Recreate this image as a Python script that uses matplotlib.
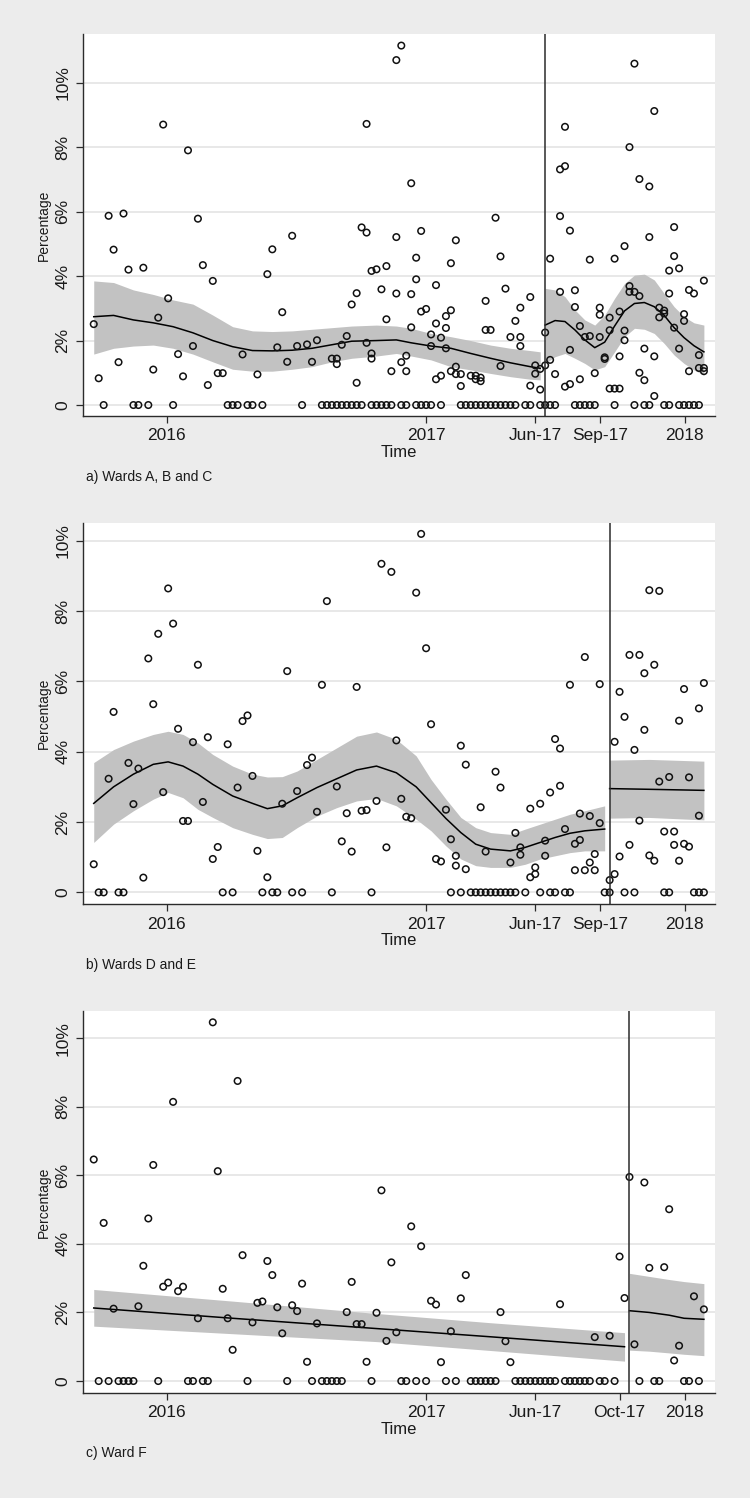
import numpy as np
import pandas as pd
import matplotlib
matplotlib.use('Agg')
import matplotlib.pyplot as plt

plt.rcParams['font.family'] = ['Liberation Sans', 'DejaVu Sans']

# weekly audits, week 0 = 20 Sep 2015; each entry lists the values seen that week (%)
start = pd.Timestamp('2015-09-20')

a_pct = [
    [2.51], [0.83], [0], [5.87], [4.82], [1.33], [5.94], [4.20], [0], [0],              # 0-9
    [4.26], [0], [1.10], [2.71], [8.70], [3.31], [0], [1.58], [0.89], [7.90],           # 10-19
    [1.83], [5.78], [4.34], [0.62], [3.85], [0.99], [0.99], [0], [0], [0],              # 20-29
    [1.57], [0], [0], [0.95], [0], [4.06], [4.83], [1.79], [2.88], [1.34],              # 30-39
    [5.25], [1.83], [0], [1.88], [1.34], [2.01], [0], [0], [1.44, 0], [1.44, 1.27, 0],  # 40-49
    [1.87, 0], [2.14, 0], [3.12, 0], [3.47, 0.69, 0], [5.51, 0], [8.72, 5.35, 1.93],
    [4.16, 1.60, 1.44, 0], [4.21, 0], [3.59, 0], [4.31, 2.66, 0],                       # 50-59
    [1.05, 0], [10.70, 5.21, 3.46], [11.15, 1.33, 0], [1.53, 1.05, 0], [6.88, 3.44, 2.41],
    [4.57, 3.90, 0], [5.40, 2.90, 0], [2.98, 0], [2.19, 1.83, 0], [3.72, 2.53, 0.80],  # 60-69
    [2.09, 0.91, 0], [2.76, 2.39, 1.76], [4.40, 2.94, 1.05], [5.11, 1.19, 0.96], [0.96, 0.59, 0],
    [0], [0.91, 0], [0.91, 0.80, 0], [0.85, 0.74, 0], [3.23, 2.33, 0],                 # 70-79
    [2.33, 0], [5.81, 0], [4.61, 1.21, 0], [3.61, 0], [2.11, 0],
    [2.61, 0], [3.02, 2.11, 1.83], [0], [3.35, 0.60, 0], [1.23, 0.97],                 # 80-89
    [1.12, 0.48, 0], [2.25, 1.23, 0], [4.54, 1.40, 0], [0.96, 0], [7.31, 5.86, 3.51],
    [8.63, 7.41, 0.57], [5.41, 1.71, 0.65], [3.56, 3.04, 0], [2.45, 0.80, 0], [2.11, 0],  # 90-99
    [4.51, 2.14, 0], [0.99, 0], [3.02, 2.80, 2.11], [1.48, 1.43], [2.71, 2.32, 0.51],
    [4.54, 0.51, 0], [2.90, 1.51, 0.51], [4.93, 2.31, 2.01], [8.00, 3.69, 3.51], [10.59, 3.51, 0],  # 100-109
    [7.01, 3.38, 1.00], [1.75, 0.77, 0], [6.78, 5.21, 0], [9.12, 1.51, 0.28], [3.02, 2.72],
    [2.93, 2.84, 0], [4.17, 3.46, 0], [5.52, 4.62, 2.40], [4.24, 1.75, 0], [2.82, 2.61, 0],  # 110-119
    [3.57, 1.05, 0], [3.46, 0], [1.55, 1.15, 0], [3.86, 1.15, 1.05],                  # 120-123
]

b_pct = [
    [0.80], [0], [0], [3.23], [5.13], [0], [0], [3.68], [2.51], [3.52],
    [0.42], [6.65], [5.35], [7.35], [2.85], [8.64], [7.64], [4.65], [2.03], [2.03],
    [4.27], [6.47], [2.57], [4.41], [0.95], [1.29], [0], [4.21], [0], [2.98],
    [4.87], [5.03], [3.31], [1.18], [0], [0.43], [0], [0], [2.52], [6.29],
    [0], [2.88], [0], [3.62], [3.83], [2.29], [5.90], [8.28], [0], [3.01],
    [1.45], [2.25], [1.16], [5.84], [2.32], [2.34], [0], [2.60], [9.34], [1.28],
    [9.11], [4.32], [2.66], [2.15], [2.11], [8.52], [10.19], [6.94], [4.78], [0.95],
    [0.88], [2.35], [1.51, 0], [1.04, 0.76], [4.17, 0], [3.63, 0.66], [0], [0], [2.42, 0], [1.16, 0],
    [0], [3.43, 0], [2.98, 0], [0], [0.85, 0], [1.69, 0], [1.28, 1.07], [0], [2.38, 0.43], [0.71, 0.52],
    [2.52, 0], [1.47, 1.04], [2.84, 0], [4.36, 0], [4.09, 3.03], [1.80, 0], [5.90, 0], [1.38, 0.63],
    [2.24, 1.49], [6.69, 0.63],
    [2.17, 0.85], [1.09, 0.63], [5.92, 1.97], [0], [0.35, 0], [4.28, 0.52], [5.70, 1.02], [4.99, 0],
    [6.75, 1.35], [4.05, 0],
    [6.75, 2.04], [6.23, 4.62], [8.59, 1.05], [6.47, 0.90], [8.57, 3.15], [1.73, 0], [3.28, 0],
    [1.73, 1.35], [4.88, 0.90], [5.78, 1.38],
    [3.27, 1.30], [0], [5.23, 2.18, 0], [5.95, 0],
]

c_pct = [6.46, 0, 4.61, 0, 2.11, 0, 0, 0, 0, 2.18, 3.36, 4.74, 6.30, 0, 2.75, 2.87, 8.14, 2.62,
         2.75, 0, 0, 1.83, 0, 0, 10.46, 6.12, 2.69, 1.83, 0.91, 8.75, 3.67, 0, 1.71, 2.28, 2.32,
         3.50, 3.09, 2.15, 1.39, 0, 2.21, 2.04, 2.84, 0.56, 0, 1.68, 0, 0, 0, 0, 0, 2.01, 2.89,
         1.66, 1.66, 0.56, 0, 1.99, 5.56, 1.17, 3.46, 1.42, 0, 0, 4.51, 0, 3.93, 0, 2.34, 2.23,
         0.55, 0, 1.45, 0, 2.41, 3.09, 0, 0, 0, 0, 0, 0, 2.01, 1.16, 0.55, 0, 0, 0, 0, 0, 0, 0,
         0, 0, 2.24, 0, 0, 0, 0, 0, 0, 1.28, 0, 0, 1.32, 0, 3.63, 2.42, 5.95, 1.07, 0, 5.79,
         3.30, 0, 0, 3.32, 5.01, 0.60, 1.03, 0, 0, 2.47, 0, 2.09]

# smoothed fits with 95% band, before / after the change (week knots)
a_fit1_wk = [0, 4, 8, 12, 16, 20, 24, 28, 32, 36, 40, 44, 48, 52, 57, 61, 64, 68, 72, 76, 80, 84, 88, 90]
a_fit1 = [2.74, 2.78, 2.64, 2.55, 2.43, 2.24, 2.00, 1.81, 1.69, 1.68, 1.70, 1.76, 1.87, 1.98, 2.00,
          2.02, 1.93, 1.83, 1.76, 1.60, 1.45, 1.31, 1.19, 1.14]
a_hi1 = [3.85, 3.80, 3.57, 3.43, 3.26, 3.13, 2.79, 2.43, 2.30, 2.28, 2.30, 2.35, 2.40, 2.45, 2.48,
         2.45, 2.38, 2.22, 2.12, 2.00, 1.86, 1.76, 1.69, 1.65]
a_lo1 = [1.58, 1.76, 1.83, 1.86, 1.76, 1.58, 1.34, 1.11, 1.05, 1.05, 1.11, 1.19, 1.34, 1.45, 1.52,
         1.60, 1.52, 1.40, 1.19, 1.09, 0.98, 0.88, 0.80, 0.78]
a_fit2_wk = [91, 93, 95, 97, 99, 101, 103, 105, 107, 109, 111, 113, 115, 117, 119, 121, 123]
a_fit2 = [2.48, 2.62, 2.59, 2.33, 2.02, 1.78, 1.95, 2.45, 2.92, 3.15, 3.18, 3.05, 2.78, 2.40, 2.09, 1.84, 1.65]
a_hi2 = [3.62, 3.57, 3.36, 2.95, 2.64, 2.48, 2.79, 3.31, 3.77, 4.03, 4.06, 3.88, 3.46, 3.05, 2.74, 2.55, 2.48]
a_lo2 = [1.29, 1.50, 1.60, 1.45, 1.29, 1.09, 1.19, 1.65, 2.12, 2.38, 2.35, 2.22, 1.91, 1.55, 1.29, 1.09, 0.93]

b_fit1_wk = [0, 4, 8, 12, 15, 18, 21, 24, 28, 32, 35, 38, 41, 45, 49, 53, 57, 61, 65, 68, 71, 74,
             77, 80, 84, 87, 90, 93, 96, 99, 103]
b_fit1 = [2.53, 3.00, 3.36, 3.64, 3.71, 3.59, 3.36, 3.07, 2.74, 2.53, 2.38, 2.46, 2.69, 2.98, 3.23,
          3.48, 3.59, 3.40, 3.00, 2.55, 2.10, 1.70, 1.37, 1.23, 1.18, 1.28, 1.42, 1.56, 1.68, 1.75, 1.80]
b_hi1 = [3.69, 4.06, 4.30, 4.49, 4.58, 4.49, 4.25, 3.92, 3.59, 3.36, 3.28, 3.29, 3.45, 3.78, 4.11,
         4.44, 4.56, 4.35, 3.88, 3.21, 2.65, 2.13, 1.84, 1.70, 1.65, 1.80, 1.94, 2.08, 2.22, 2.32, 2.46]
b_lo1 = [1.42, 1.94, 2.32, 2.65, 2.84, 2.69, 2.36, 2.13, 1.84, 1.65, 1.53, 1.56, 1.84, 2.17, 2.41,
         2.60, 2.67, 2.46, 2.08, 1.75, 1.32, 0.95, 0.76, 0.71, 0.71, 0.80, 0.95, 1.04, 1.13, 1.18, 1.18]
b_fit2_wk = [104, 112, 123]
b_fit2 = [2.95, 2.93, 2.90]
b_hi2 = [3.76, 3.78, 3.73]
b_lo2 = [2.11, 2.13, 2.06]

c_fit1_wk = [0, 28, 57, 80, 107]
c_fit1 = [2.13, 1.83, 1.53, 1.29, 1.00]
c_hi1 = [2.67, 2.33, 1.97, 1.70, 1.41]
c_lo1 = [1.60, 1.38, 1.15, 0.89, 0.58]
c_fit2_wk = [108, 112, 116, 119, 123]
c_fit2 = [2.05, 2.00, 1.92, 1.83, 1.80]
c_hi2 = [3.14, 3.05, 2.96, 2.90, 2.84]
c_lo2 = [0.90, 0.87, 0.82, 0.78, 0.74]

change_wk = [91, 104, 108]
captions = ['a) Wards A, B and C', 'b) Wards D and E', 'c) Ward F']
ymax = [11.5, 10.51, 10.79]
tick_dates_ab = ['2016-01-01', '2017-01-01', '2017-06-04', '2017-09-03', '2018-01-01']
tick_labels_ab = ['2016', '2017', 'Jun-17', 'Sep-17', '2018']
tick_dates_c = ['2016-01-01', '2017-01-01', '2017-06-04', '2017-10-01', '2018-01-01']
tick_labels_c = ['2016', '2017', 'Jun-17', 'Oct-17', '2018']


def to_date(wk):
    return start + pd.to_timedelta(np.asarray(wk, dtype=float) * 7, unit='D')


def flatten(per_week):
    wk, val = [], []
    for i, vals in enumerate(per_week):
        for v in vals:
            wk.append(i)
            val.append(v)
    return wk, val


panels = [
    (flatten(a_pct), [(a_fit1_wk, a_fit1, a_lo1, a_hi1), (a_fit2_wk, a_fit2, a_lo2, a_hi2)],
     tick_dates_ab, tick_labels_ab),
    (flatten(b_pct), [(b_fit1_wk, b_fit1, b_lo1, b_hi1), (b_fit2_wk, b_fit2, b_lo2, b_hi2)],
     tick_dates_ab, tick_labels_ab),
    ((list(range(len(c_pct))), c_pct), [(c_fit1_wk, c_fit1, c_lo1, c_hi1), (c_fit2_wk, c_fit2, c_lo2, c_hi2)],
     tick_dates_c, tick_labels_c),
]

fig = plt.figure(figsize=(7.5, 14.98), dpi=100, facecolor='#ececec')
bottoms = [0.7223, 0.3963, 0.0703]
cap_y = [0.6816, 0.3558, 0.0298]
dark = '#2b2b2b'

for k, ((wk, val), fits, tdates, tlabels) in enumerate(panels):
    ax = fig.add_axes([0.1107, bottoms[k], 0.8427, 0.2548])
    ax.set_facecolor('white')
    ax.set_axisbelow(True)
    ax.yaxis.grid(True, color='#e6e6e6', linewidth=1.3)

    for fw, fv, lo, hi in fits:
        d = to_date(fw)
        ax.fill_between(d, lo, hi, color='#c2c2c2', linewidth=0, zorder=2)
        ax.plot(d, fv, color='black', linewidth=1.1, zorder=3)

    ax.scatter(to_date(wk), val, s=22, facecolors='none', edgecolors='#111111',
               linewidths=1.1, zorder=4)
    ax.axvline(to_date([change_wk[k]])[0], color=dark, linewidth=1.1, zorder=5)

    ax.set_xlim(to_date([-2.16])[0], to_date([125.25])[0])
    ax.set_ylim(-0.34, ymax[k])
    ax.set_yticks([0, 2, 4, 6, 8, 10])
    ax.set_yticklabels(['0', '2%', '4%', '6%', '8%', '10%'], rotation=90, va='center')
    ax.set_xticks(pd.to_datetime(tdates))
    ax.set_xticklabels(tlabels)

    for side in ['top', 'right']:
        ax.spines[side].set_visible(False)
    for side in ['left', 'bottom']:
        ax.spines[side].set_color(dark)
        ax.spines[side].set_linewidth(1.0)
    ax.tick_params(axis='both', direction='out', length=5, width=0.9, color=dark,
                   labelsize=12.5, labelcolor='#1a1a1a', pad=4)

    ax.set_ylabel('Percentage', fontsize=10, color='#1a1a1a', labelpad=3)
    ax.set_xlabel('Time', fontsize=12, color='#1a1a1a', labelpad=1)
    fig.text(0.1147, cap_y[k], captions[k], fontsize=10, color='#1a1a1a', va='center', ha='left')

fig.savefig('out.png', dpi=100, facecolor=fig.get_facecolor())
